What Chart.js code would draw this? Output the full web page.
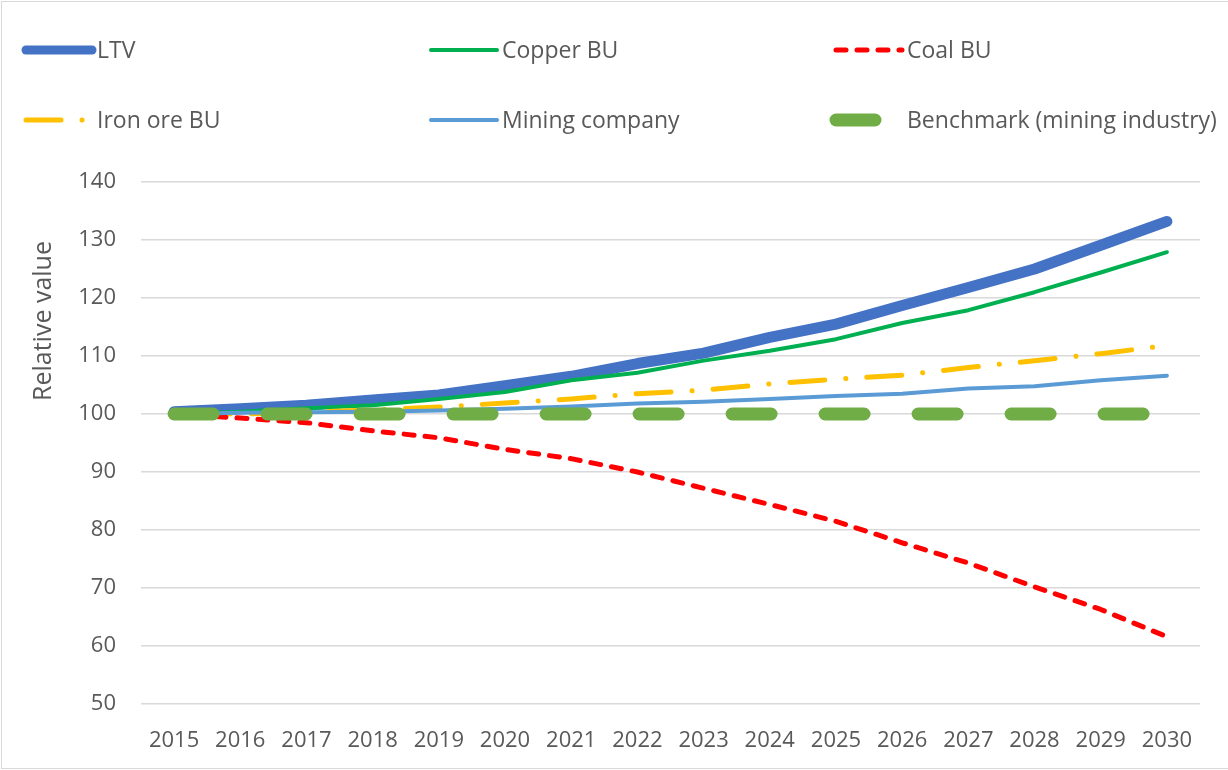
<!DOCTYPE html>
<html>
<head>
<meta charset="utf-8">
<script src="https://cdn.jsdelivr.net/npm/chart.js@4.4.1/dist/chart.umd.min.js"></script>
<style>
  html, body { margin: 0; padding: 0; background: #fff; }
  #wrap { position: relative; width: 1228px; height: 770px; overflow: hidden; }
  #frame { position: absolute; left: 1px; top: 1px; width: 1240px; height: 766px; border: 1px solid #d9d9d9; pointer-events: none; }
</style>
</head>
<body>
<div id="wrap">
  <canvas id="mainChart" width="1228" height="770"></canvas>
  <div id="frame"></div>
</div>
<script>
// data
const years = ['2015', '2016', '2017', '2018', '2019', '2020', '2021', '2022',
               '2023', '2024', '2025', '2026', '2027', '2028', '2029', '2030'];
const ltv = [100.4, 100.9, 101.5, 102.4, 103.3, 104.9, 106.5, 108.7, 110.5, 113.2, 115.5, 118.7, 121.8, 125.0, 129.1, 133.2];
const copperBU = [100.0, 100.4, 101.0, 101.5, 102.6, 103.8, 105.8, 107.1, 109.2, 110.9, 112.9, 115.7, 117.9, 121.0, 124.4, 127.9];
const coalBU = [100.0, 99.3, 98.5, 97.1, 95.9, 93.9, 92.3, 90.0, 87.2, 84.4, 81.5, 77.8, 74.3, 70.2, 66.3, 61.6];
const ironOreBU = [100.0, 100.0, 100.3, 100.7, 101.2, 101.9, 102.6, 103.5, 104.1, 105.2, 106.0, 106.7, 108.0, 109.2, 110.4, 111.8];
const miningCompany = [100.0, 100.2, 100.3, 100.4, 100.6, 100.9, 101.3, 101.8, 102.1, 102.6, 103.1, 103.5, 104.4, 104.8, 105.8, 106.6];
const benchmark = [100, 100, 100, 100, 100, 100, 100, 100, 100, 100, 100, 100, 100, 100, 100, 100];
const yTicks = [50, 60, 70, 80, 90, 100, 110, 120, 130, 140];
const yTitle = 'Relative value';

const FONT = "'Open Sans', 'Liberation Sans', sans-serif";
const TEXT = '#595959';

function series(label, data, color, width, dash, order) {
    return {
        label: label,
        data: data,
        borderColor: color,
        backgroundColor: color,
        borderWidth: width,
        borderDash: dash,
        borderCapStyle: 'round',
        borderJoinStyle: 'round',
        pointRadius: 0,
        tension: 0,
        fill: false,
        order: order
    };
}

//legend drawn by hand so the columns sit where they do in the picture
const legendSlots = [
    { x: 22, y: 50 }, { x: 427, y: 50 }, { x: 832, y: 50 },
    { x: 22, y: 120 }, { x: 427, y: 120 }, { x: 832, y: 120 }
];

const handLegend = {
    id: 'handLegend',
    afterDraw(chart) {
        const ctx = chart.ctx;
        chart.data.datasets.forEach((ds, i) => {
            const s = legendSlots[i];
            ctx.save();
            ctx.strokeStyle = ds.borderColor;
            ctx.lineWidth = i === 0 ? 9 : ds.borderWidth;
            ctx.lineCap = 'round';
            ctx.setLineDash(ds.borderDash || []);
            ctx.beginPath();
            ctx.moveTo(s.x + 4, s.y);
            ctx.lineTo(s.x + 70, s.y);
            ctx.stroke();
            ctx.restore();

            ctx.save();
            ctx.fillStyle = TEXT;
            ctx.font = '23px ' + FONT;
            ctx.textBaseline = 'middle';
            ctx.fillText(ds.label, s.x + 75, s.y + 1);
            ctx.restore();
        });

        // y axis title sits a bit above the middle of the axis in the picture
        ctx.save();
        ctx.translate(44, 321);
        ctx.rotate(-Math.PI / 2);
        ctx.fillStyle = TEXT;
        ctx.font = '25px ' + FONT;
        ctx.textAlign = 'center';
        ctx.textBaseline = 'middle';
        ctx.fillText(yTitle, 0, 0);
        ctx.restore();
    }
};

const mainChart = new Chart(document.getElementById('mainChart'), {
    type: 'line',
    data: {
        labels: years,
        datasets: [
            series('LTV', ltv, '#4472C4', 11, [], 6),
            series('Copper BU', copperBU, '#00B050', 4, [], 5),
            series('Coal BU', coalBU, '#FF0000', 5, [10, 11], 4),
            series('Iron ore BU', ironOreBU, '#FFC000', 5, [35, 21, 0.1, 21], 3),
            series('Mining company', miningCompany, '#5B9BD5', 4, [], 2),
            series('Benchmark (mining industry)', benchmark, '#70AD47', 13, [39, 54], 1)
        ]
    },
    options: {
        responsive: false,
        animation: false,
        layout: { padding: { top: 182, right: 28, left: 0, bottom: 0 } },
        plugins: {
            legend: { display: false },
            tooltip: { enabled: false }
        },
        scales: {
            x: {
                offset: true,
                grid: { display: false },
                border: { display: false },
                ticks: {
                    color: TEXT,
                    font: { family: FONT, size: 22 },
                    padding: 16,
                    maxRotation: 0,
                    autoSkip: false
                },
                afterFit(scale) { scale.height = 66; }
            },
            y: {
                min: 50,
                max: 140,
                afterBuildTicks(scale) { scale.ticks = yTicks.map(v => ({ value: v })); },
                grid: { color: '#d9d9d9', lineWidth: 1.5, drawTicks: false },
                border: { display: false },
                ticks: {
                    color: TEXT,
                    font: { family: FONT, size: 22 },
                    padding: 25
                },
                afterFit(scale) { scale.width = 141; }
            }
        }
    },
    plugins: [handLegend]
});
</script>
</body>
</html>
